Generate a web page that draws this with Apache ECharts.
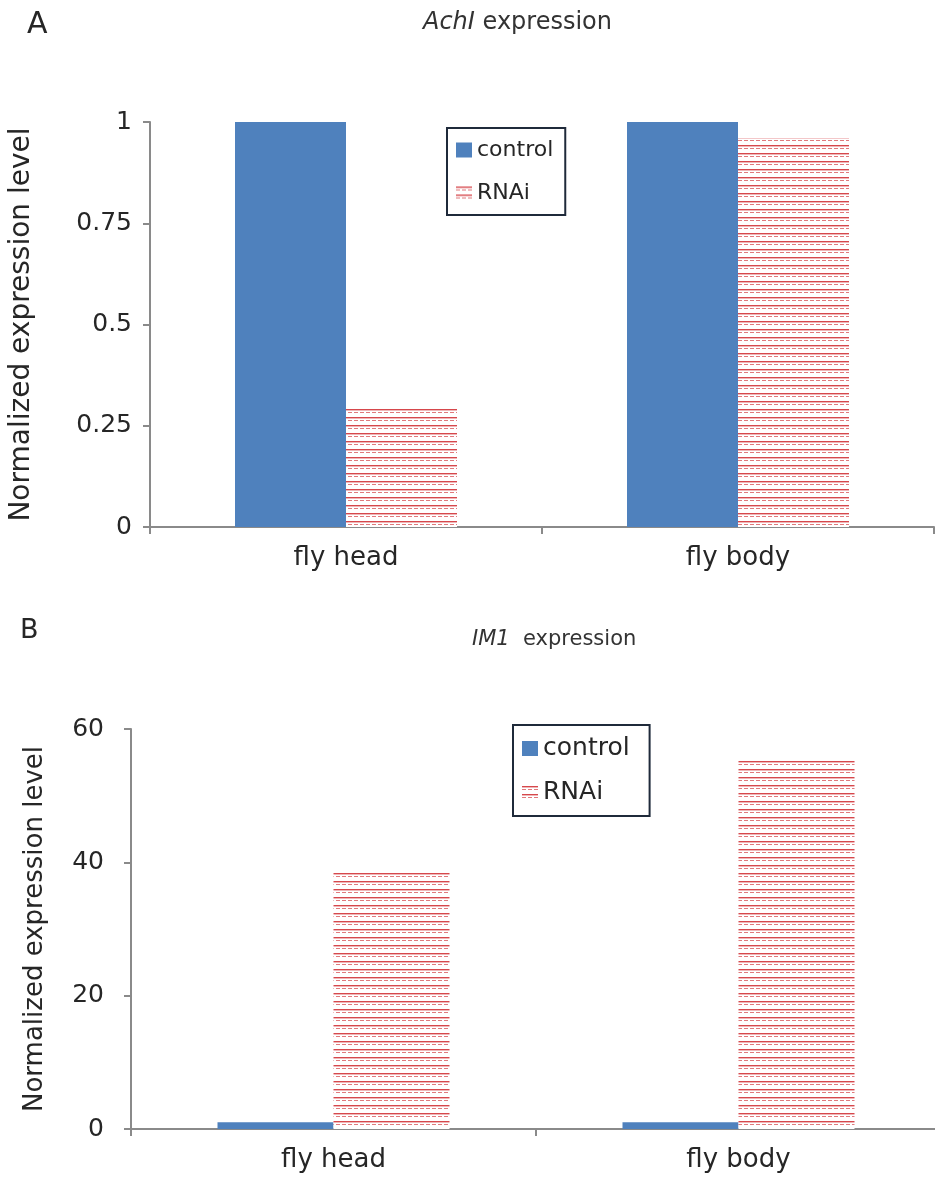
<!DOCTYPE html>
<html>
<head>
<meta charset="utf-8">
<script src="https://cdn.jsdelivr.net/npm/echarts@6/dist/echarts.min.js"></script>
<style>
  html, body { margin: 0; padding: 0; background: #fff; }
  #chart { width: 935px; height: 1182px; }
</style>
</head>
<body>
<div id="chart"></div>
<script>
// Tissues compared in both panels
const categories = ['fly head', 'fly body'];

// Panel A: AchI normalized expression
const achiControl = [1, 1];
const achiRNAi = [0.30, 0.96];
const achiTicks = [0, 0.25, 0.5, 0.75, 1];

// Panel B: IM1 normalized expression
const im1Control = [1, 1];
const im1RNAi = [38.5, 55.3];
const im1Ticks = [0, 20, 40, 60];

const FONT = '"DejaVu Sans", "Liberation Sans", Arial, sans-serif';
const BLUE = '#4f81bd';
const AXIS = '#8a8a8a';
const INK = '#262626';

// Horizontal line hatching (solid + dashed red rules) used for RNAi bars
function makeHatch() {
  const c = document.createElement('canvas');
  c.width = 12; c.height = 8;
  const g = c.getContext('2d');
  g.fillStyle = '#ffffff';
  g.fillRect(0, 0, 12, 8);
  g.fillStyle = '#d6484c';
  g.fillRect(0, 1, 12, 1.4);
  g.fillStyle = '#e07a7d';
  g.fillRect(0, 4, 4, 1);
  g.fillRect(6, 4, 4, 1);
  return c;
}
const hatch = { image: makeHatch(), repeat: 'repeat' };

function yAxisFor(gridIndex, ticks, gap, margin, nameSize) {
  return {
    type: 'value', gridIndex, min: ticks[0], max: ticks[ticks.length - 1],
    interval: ticks[1] - ticks[0],
    name: 'Normalized expression level',
    nameLocation: 'middle', nameGap: gap, nameRotate: 90,
    nameTextStyle: { fontFamily: FONT, fontSize: nameSize, color: INK },
    axisLine: { show: true, lineStyle: { color: AXIS, width: 2 } },
    axisTick: { show: true, length: 7, lineStyle: { color: AXIS, width: 2 } },
    axisLabel: { fontFamily: FONT, fontSize: 25, color: INK, margin: margin,
      formatter: v => String(v) },
    splitLine: { show: false }
  };
}

function xAxisFor(gridIndex) {
  return {
    type: 'category', gridIndex, data: categories,
    axisLine: { show: true, lineStyle: { color: AXIS, width: 2 } },
    axisTick: { show: true, length: 7, alignWithLabel: false, lineStyle: { color: AXIS, width: 2 } },
    axisLabel: { fontFamily: FONT, fontSize: 26, color: INK, margin: 18 }
  };
}

const barCommon = { type: 'bar', barGap: '0%', animation: false };

function legendFor(names, left, top, size, gap) {
  return {
    data: names, orient: 'vertical', left, top,
    itemWidth: 16, itemHeight: 15, itemGap: gap, padding: [11, 12, 11, 9],
    borderColor: '#1f2a3a', borderWidth: 2,
    textStyle: { fontFamily: FONT, fontSize: size, color: INK },
    icon: 'rect'
  };
}

const option = {
  backgroundColor: '#ffffff',
  animation: false,
  title: [
    { text: 'A', left: 22, top: 5, textStyle: { fontFamily: FONT, fontSize: 30, fontWeight: 'normal', color: INK } },
    { text: '{i|AchI} expression', left: 418, top: 6,
      textStyle: { fontFamily: FONT, fontSize: 24, fontWeight: 'normal', color: '#333',
        rich: { i: { fontFamily: FONT, fontSize: 24, fontStyle: 'italic', color: '#333' } } } },
    { text: 'B', left: 15, top: 612, textStyle: { fontFamily: FONT, fontSize: 27, fontWeight: 'normal', color: INK } },
    { text: '{i|IM1}  expression', left: 467, top: 624,
      textStyle: { fontFamily: FONT, fontSize: 21, fontWeight: 'normal', color: '#333',
        rich: { i: { fontFamily: FONT, fontSize: 21, fontStyle: 'italic', color: '#333' } } } }
  ],
  legend: [
    legendFor(['control', 'RNAi'], 447, 128, 22, 21),
    legendFor(['control ', 'RNAi '], 513, 725, 25, 19)
  ],
  grid: [
    { left: 150, top: 122, width: 784, height: 405, outerBoundsMode: 'none' },
    { left: 131, top: 729, width: 810, height: 400, outerBoundsMode: 'none' }
  ],
  xAxis: [xAxisFor(0), xAxisFor(1)],
  yAxis: [
    yAxisFor(0, achiTicks, 114, 18, 28),
    yAxisFor(1, im1Ticks, 83, 27, 26)
  ],
  series: [
    Object.assign({}, barCommon, { name: 'control', barWidth: 111, xAxisIndex: 0, yAxisIndex: 0,
      data: achiControl, itemStyle: { color: BLUE } }),
    Object.assign({}, barCommon, { name: 'RNAi', barWidth: 111, xAxisIndex: 0, yAxisIndex: 0,
      data: achiRNAi, itemStyle: { color: hatch } }),
    Object.assign({}, barCommon, { name: 'control ', barWidth: 116, xAxisIndex: 1, yAxisIndex: 1,
      data: im1Control, itemStyle: { color: BLUE } }),
    Object.assign({}, barCommon, { name: 'RNAi ', barWidth: 116, xAxisIndex: 1, yAxisIndex: 1,
      data: im1RNAi, itemStyle: { color: hatch } })
  ]
};

const chart = echarts.init(document.getElementById('chart'), null, { renderer: 'canvas' });
chart.setOption(option);
</script>
</body>
</html>
